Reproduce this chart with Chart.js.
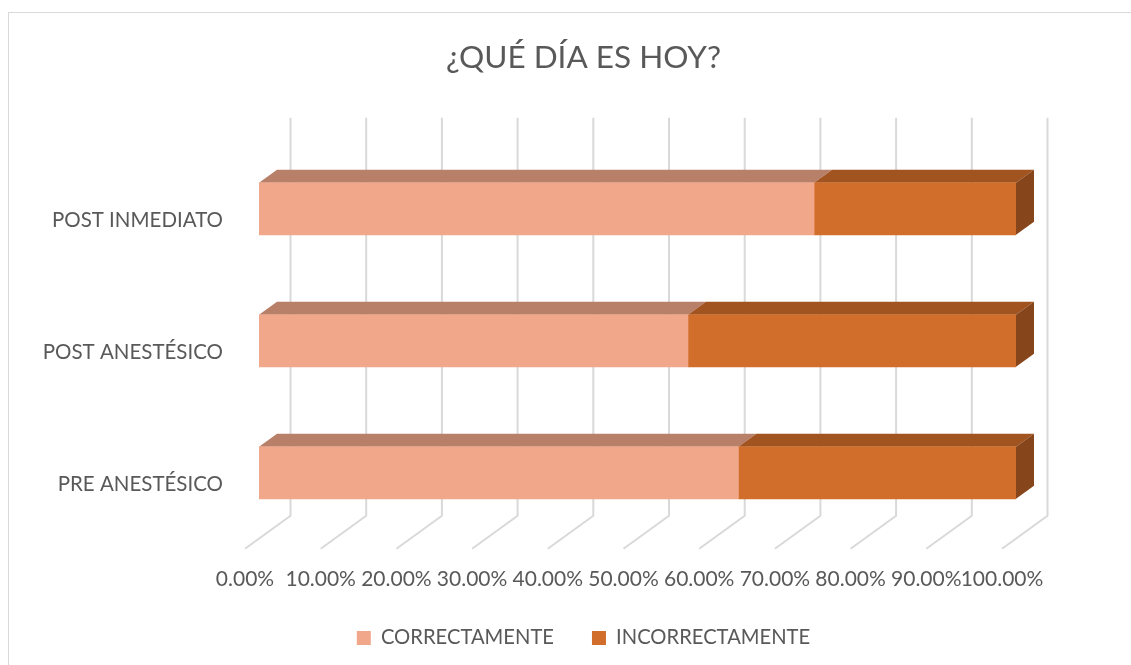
<!DOCTYPE html>
<html lang="es">
<head>
<meta charset="utf-8">
<title>¿Qué día es hoy?</title>
<script src="https://cdn.jsdelivr.net/npm/chart.js@4.4.1/dist/chart.umd.min.js"></script>
<style>
    html, body {
        margin: 0;
        padding: 0;
        background: #ffffff;
        overflow: hidden;
    }
    #frame {
        position: absolute;
        left: 8px;
        top: 12px;
        width: 1149px;
        height: 671px;
        border: 1px solid #d9d9d9;
        background: #ffffff;
    }
    #frame canvas {
        display: block;
    }
</style>
</head>
<body>
<div id="frame">
    <canvas id="diaChart" width="1149" height="645"></canvas>
</div>
<script>
// Data
const categories = ['POST INMEDIATO', 'POST ANESTÉSICO', 'PRE ANESTÉSICO'];
const correctamente = [73.33, 56.67, 63.33];
const incorrectamente = [26.67, 43.33, 36.67];
const xTicks = [0, 10, 20, 30, 40, 50, 60, 70, 80, 90, 100];

const textColor = '#595959';
const fontFamily = "Lato, 'Open Sans', sans-serif";

// depth of the bars and of the floor/back wall
const depthX = 18;
const depthY = 13;

// Draws the floor, back wall grid and the top/end faces of the bars
const bar3d = {
    id: 'bar3d',
    beforeDatasetsDraw(chart) {
        const { ctx, chartArea, scales } = chart;
        const x = scales.x;
        const floorFront = chartArea.bottom + 10;
        const floorBack = chartArea.bottom - 23;
        const wallTop = chartArea.top - 25;

        ctx.save();
        ctx.strokeStyle = '#d9d9d9';
        ctx.lineWidth = 2;
        x.ticks.forEach(t => {
            const px = x.getPixelForValue(t.value);
            ctx.beginPath();
            ctx.moveTo(px - 14, floorFront);
            ctx.lineTo(px + 31.5, floorBack);
            ctx.lineTo(px + 31.5, wallTop);
            ctx.stroke();
        });

        const last = chart.data.datasets.length - 1;
        chart.data.datasets.forEach((ds, i) => {
            const meta = chart.getDatasetMeta(i);
            meta.data.forEach(bar => {
                const { x: end, y, base, height } = bar.getProps(['x', 'y', 'base', 'height'], true);
                const top = y - height / 2;
                const bottom = y + height / 2;

                ctx.fillStyle = ds.topColor;
                ctx.beginPath();
                ctx.moveTo(base, top);
                ctx.lineTo(end, top);
                ctx.lineTo(end + depthX, top - depthY);
                ctx.lineTo(base + depthX, top - depthY);
                ctx.closePath();
                ctx.fill();

                if (i === last) {
                    ctx.fillStyle = ds.sideColor;
                    ctx.beginPath();
                    ctx.moveTo(end, top);
                    ctx.lineTo(end + depthX, top - depthY);
                    ctx.lineTo(end + depthX, bottom - depthY);
                    ctx.lineTo(end, bottom);
                    ctx.closePath();
                    ctx.fill();
                }
            });
        });
        ctx.restore();
    }
};

const ctx = document.getElementById('diaChart').getContext('2d');
const chart = new Chart(ctx, {
    type: 'bar',
    data: {
        labels: categories,
        datasets: [
            {
                label: 'CORRECTAMENTE',
                data: correctamente,
                backgroundColor: '#F1A88A',
                topColor: '#B87F69',
                sideColor: '#B87F69',
                borderWidth: 0,
                barThickness: 52
            },
            {
                label: 'INCORRECTAMENTE',
                data: incorrectamente,
                backgroundColor: '#D26E2B',
                topColor: '#A15320',
                sideColor: '#86451A',
                borderWidth: 0,
                barThickness: 52
            }
        ]
    },
    options: {
        indexAxis: 'y',
        responsive: false,
        animation: false,
        layout: { padding: 0 },
        scales: {
            x: {
                type: 'linear',
                stacked: true,
                min: 0,
                max: 100,
                afterBuildTicks: (scale) => {
                    scale.ticks = xTicks.map(v => ({ value: v }));
                },
                afterFit: (scale) => { scale.height = 51; },
                grid: { display: false, drawTicks: false },
                border: { display: false },
                ticks: {
                    padding: 28,
                    labelOffset: -14,
                    maxRotation: 0,
                    autoSkip: false,
                    color: textColor,
                    font: { family: fontFamily, size: 21 },
                    callback: (v) => v.toFixed(2) + '%'
                }
            },
            y: {
                stacked: true,
                afterFit: (scale) => { scale.width = 250; },
                grid: { display: false, drawTicks: false },
                border: { display: false },
                ticks: {
                    padding: 36,
                    labelOffset: 12,
                    color: textColor,
                    font: { family: fontFamily, size: 20.5 }
                }
            },
            yRight: {
                type: 'linear',
                position: 'right',
                afterFit: (scale) => { scale.width = 142; },
                grid: { display: false, drawTicks: false },
                border: { display: false },
                ticks: { display: false }
            }
        },
        plugins: {
            title: {
                display: true,
                text: '¿QUÉ DÍA ES HOY?',
                color: textColor,
                font: { family: fontFamily, size: 31.5, weight: 'normal' },
                padding: { top: 26, bottom: 66 }
            },
            legend: {
                display: true,
                position: 'bottom',
                labels: {
                    boxWidth: 14,
                    boxHeight: 14,
                    padding: 38,
                    color: textColor,
                    font: { family: fontFamily, size: 20.2 }
                }
            },
            tooltip: { enabled: false }
        }
    },
    plugins: [bar3d]
});
</script>
</body>
</html>
